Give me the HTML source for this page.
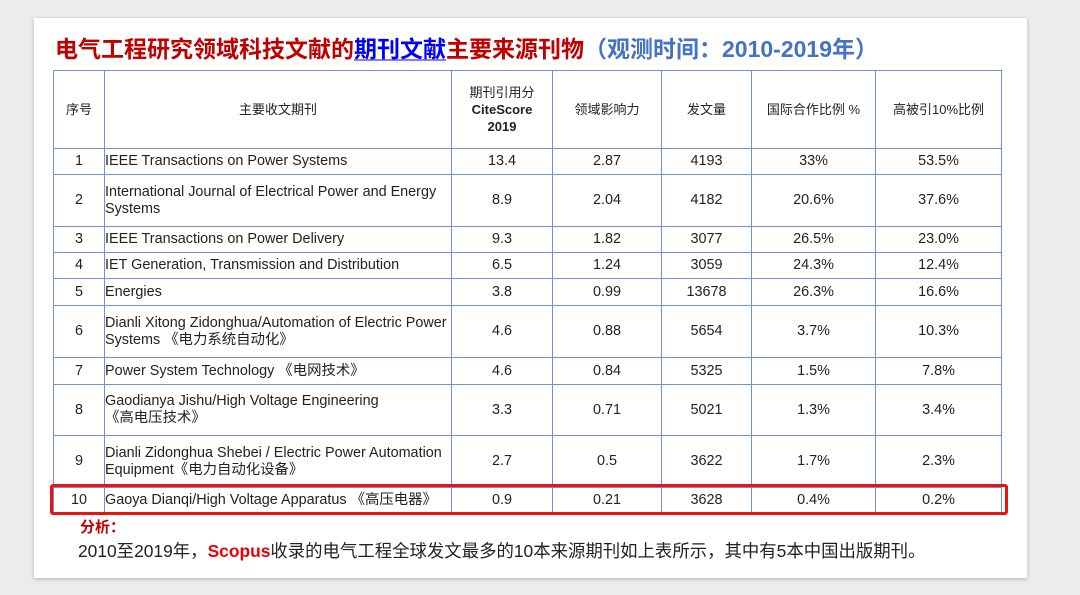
<!DOCTYPE html>
<html><head><meta charset="utf-8"><style>
body{margin:0;width:1080px;height:595px;background:#ececec;font-family:"Liberation Sans","Noto Sans CJK SC",sans-serif;position:relative;overflow:hidden}
.card{position:absolute;left:34px;top:18px;width:993px;height:560px;background:#fff;box-shadow:0 1px 4px rgba(0,0,0,.25)}
.title{position:absolute;left:55px;top:30px;font-size:23px;font-weight:bold;color:#c00000;white-space:nowrap;letter-spacing:0px}
.title u{color:#0000ff;text-decoration-color:#8080ff}
.title span{color:#4472c4}
table{position:absolute;left:53px;top:70px;border-collapse:collapse;font-size:14.4px;color:#222;table-layout:fixed}
td{border:1px solid #7090d8;text-align:center;padding:0;line-height:17px}
td.l{text-align:left;padding-left:0}
.h td{font-size:13px}
.box{position:absolute;left:50px;top:484px;width:952px;height:25px;border:3px solid #f01010;border-radius:3px}
.fx{position:absolute;left:80px;top:516px;color:#c00000;font-size:15px;font-weight:bold}
.tx{position:absolute;left:78px;top:538px;font-size:17.4px;color:#222;white-space:nowrap}
.tx b{color:#f00000}
</style></head><body>
<div class="card"></div>
<div class="title">电气工程研究领域科技文献的<u>期刊文献</u>主要来源刊物<span>（观测时间：2010-2019年）</span></div>
<table>
<colgroup><col style="width:51px"><col style="width:347px"><col style="width:101px"><col style="width:109px"><col style="width:90px"><col style="width:124px"><col style="width:126px"></colgroup>
<tr class="h" style="height:78px"><td>序号</td><td>主要收文期刊</td><td>期刊引用分<br><b>CiteScore<br>2019</b></td><td>领域影响力</td><td>发文量</td><td>国际合作比例 %</td><td>高被引10%比例</td></tr>
<tr style="height:26px"><td>1</td><td class="l">IEEE Transactions on Power Systems</td><td>13.4</td><td>2.87</td><td>4193</td><td>33%</td><td>53.5%</td></tr>
<tr style="height:52px"><td>2</td><td class="l">International Journal of Electrical Power and Energy Systems</td><td>8.9</td><td>2.04</td><td>4182</td><td>20.6%</td><td>37.6%</td></tr>
<tr style="height:26px"><td>3</td><td class="l">IEEE Transactions on Power Delivery</td><td>9.3</td><td>1.82</td><td>3077</td><td>26.5%</td><td>23.0%</td></tr>
<tr style="height:26px"><td>4</td><td class="l">IET Generation, Transmission and Distribution</td><td>6.5</td><td>1.24</td><td>3059</td><td>24.3%</td><td>12.4%</td></tr>
<tr style="height:27px"><td>5</td><td class="l">Energies</td><td>3.8</td><td>0.99</td><td>13678</td><td>26.3%</td><td>16.6%</td></tr>
<tr style="height:52px"><td>6</td><td class="l">Dianli Xitong Zidonghua/Automation of Electric Power Systems 《电力系统自动化》</td><td>4.6</td><td>0.88</td><td>5654</td><td>3.7%</td><td>10.3%</td></tr>
<tr style="height:27px"><td>7</td><td class="l">Power System Technology 《电网技术》</td><td>4.6</td><td>0.84</td><td>5325</td><td>1.5%</td><td>7.8%</td></tr>
<tr style="height:51px"><td>8</td><td class="l">Gaodianya Jishu/High Voltage Engineering<br>《高电压技术》</td><td>3.3</td><td>0.71</td><td>5021</td><td>1.3%</td><td>3.4%</td></tr>
<tr style="height:52px"><td>9</td><td class="l">Dianli Zidonghua Shebei / Electric Power Automation Equipment《电力自动化设备》</td><td>2.7</td><td>0.5</td><td>3622</td><td>1.7%</td><td>2.3%</td></tr>
<tr style="height:25px"><td>10</td><td class="l">Gaoya Dianqi/High Voltage Apparatus 《高压电器》</td><td>0.9</td><td>0.21</td><td>3628</td><td>0.4%</td><td>0.2%</td></tr>
</table>
<div class="box"></div>
<div class="fx">分析：</div>
<div class="tx">2010至2019年，<b>Scopus</b>收录的电气工程全球发文最多的10本来源期刊如上表所示，其中有5本中国出版期刊。</div>
</body></html>
